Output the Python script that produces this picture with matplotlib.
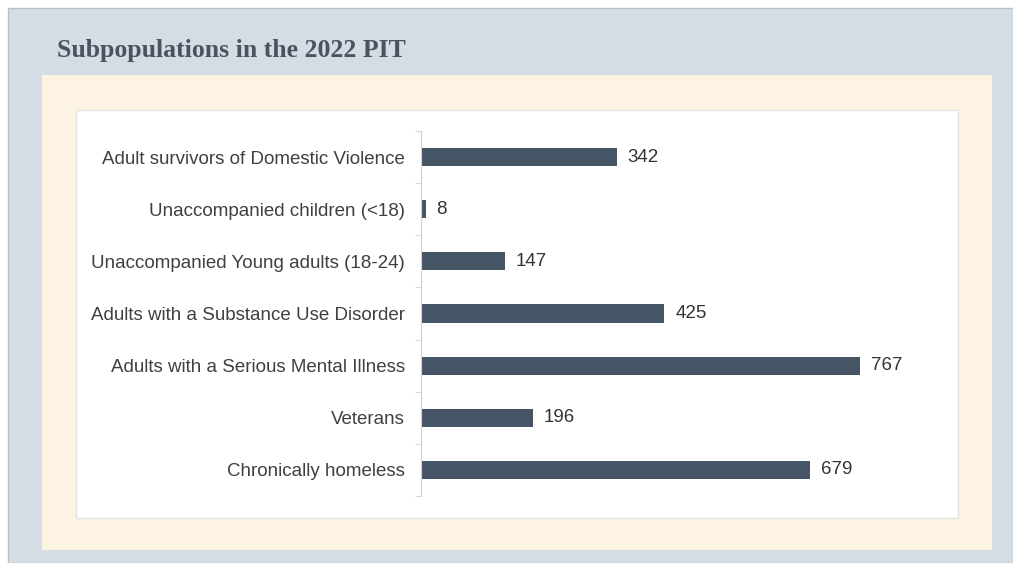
import numpy as np
import matplotlib.pyplot as plt
from matplotlib.patches import Rectangle

# data (top to bottom as shown)
categories = [
    'Adult survivors of Domestic Violence',
    'Unaccompanied children (<18)',
    'Unaccompanied Young adults (18-24)',
    'Adults with a Substance Use Disorder',
    'Adults with a Serious Mental Illness',
    'Veterans',
    'Chronically homeless',
]
counts = [342, 8, 147, 425, 767, 196, 679]
title = 'Subpopulations in the 2022 PIT'

W, H = 1013, 563
fig = plt.figure(figsize=(W / 100, H / 100), dpi=100)
fig.patch.set_facecolor('white')

# background panels (pixel boxes -> figure fractions)
def box(x0, y0, x1, y1, fc, ec='none', lw=0):
    fig.patches.append(Rectangle((x0 / W, 1 - y1 / H), (x1 - x0) / W, (y1 - y0) / H,
                                 transform=fig.transFigure, facecolor=fc,
                                 edgecolor=ec, linewidth=lw, zorder=-5))

box(8, 8, 1013, 563, '#d6dce3', ec='#b9bfc6', lw=1)
box(42, 75, 992, 550, '#fcf3e2')
box(76, 110, 958, 518, 'white', ec='#e4e4e4', lw=1)

fig.text(57 / W, 1 - 50 / H, title, family='Liberation Serif', fontsize=18.5,
         fontweight='bold', color='#4a5360', va='center', ha='left')

# axes: spine at x=421, 0..800 maps to 421..879
ax_x0, ax_x1 = 421, 879
ax_y0, ax_y1 = 131, 496
ax = fig.add_axes([ax_x0 / W, 1 - ax_y1 / H, (ax_x1 - ax_x0) / W, (ax_y1 - ax_y0) / H])
ax.set_zorder(2)
ax.set_facecolor('none')

y = np.arange(len(categories))
ax.barh(y, counts, height=0.35, color='#465565')
for yi, v in zip(y, counts):
    ax.text(v + 19, yi, str(v), va='center', ha='left', fontsize=13.5,
            family='Liberation Sans', color='#333333')

ax.set_xlim(0, 800)
ax.set_ylim(len(categories) - 0.5, -0.5)
ax.set_yticks(y)
ax.set_yticklabels(categories, family='Liberation Sans', fontsize=13.5, color='#404040')
ax.set_yticks(np.arange(-0.5, len(categories)), minor=True)
ax.tick_params(axis='y', which='major', length=0, pad=11.5)
ax.tick_params(axis='y', which='minor', length=4, color='#d0d0d0', direction='out')
ax.set_xticks([])
for s in ['top', 'right', 'bottom']:
    ax.spines[s].set_visible(False)
ax.spines['left'].set_color('#d0d0d0')

fig.savefig('out.png', dpi=100)
